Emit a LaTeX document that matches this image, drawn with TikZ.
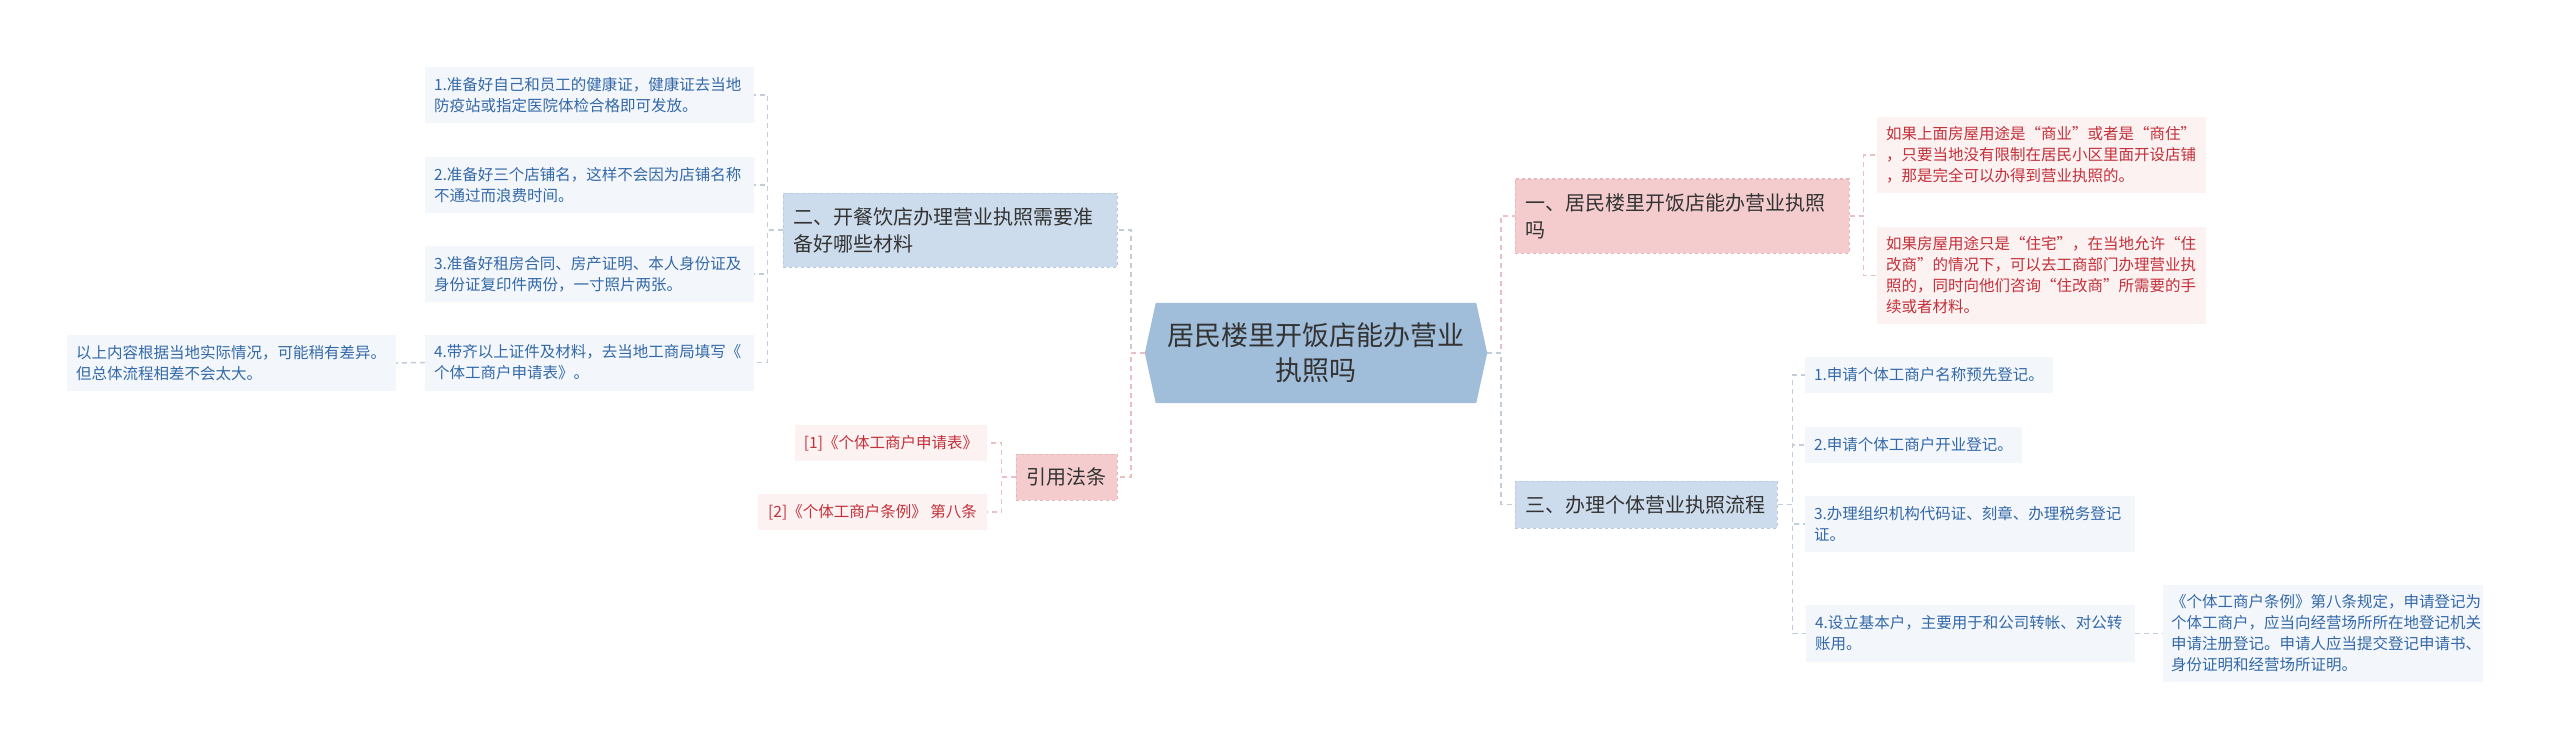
\documentclass[tikz,border=0pt]{standalone}
\usepackage{fontspec}
\newfontfamily\cjk{Noto Sans CJK SC}
\definecolor{hubfill}{HTML}{A0BDDA}
\definecolor{bluefill}{HTML}{CCDCEC}
\definecolor{blueedge}{HTML}{B6C9DD}
\definecolor{pinkfill}{HTML}{F4CCCD}
\definecolor{pinkedge}{HTML}{E8B6B8}
\definecolor{bleaffill}{HTML}{F3F7FB}
\definecolor{pleaffill}{HTML}{FCF2F2}
\definecolor{btext}{HTML}{3468A8}
\definecolor{ptext}{HTML}{C4303A}
\definecolor{blinecol}{HTML}{C3CDD8}
\definecolor{plinecol}{HTML}{E9C0C3}
\definecolor{darktext}{HTML}{333333}
\usetikzlibrary{backgrounds}

\begin{document}
\begin{tikzpicture}[
  x=1pt, y=-1pt,
  hub/.style ={inner sep=0pt, minimum width=342pt, minimum height=100pt, align=center,
               text=darktext, font=\cjk\fontsize{27}{35}\selectfont},
  bbranch/.style={draw=blueedge, dashed, line width=1pt, fill=bluefill, text=darktext,
               font=\cjk\fontsize{20}{27}\selectfont, align=left, inner xsep=10pt,
               inner ysep=0pt, text width=314pt, minimum height=74pt},
  pbranch/.style={bbranch, draw=pinkedge, fill=pinkfill},
  leafbase/.style={font=\cjk\fontsize{15.5}{21}\selectfont, inner xsep=9pt,
               inner ysep=0pt, minimum height=56pt},
  bleaf/.style={leafbase, fill=bleaffill, text=btext, align=left, text width=311pt},
  pleaf/.style={leafbase, fill=pleaffill, text=ptext, align=left, text width=311pt},
  reftag/.style={leafbase, fill=pleaffill, text=ptext, align=center, minimum height=36pt},
  blink/.style={draw=blinecol, line width=1.5pt, dash pattern=on 5pt off 4pt},
  plink/.style={draw=plinecol, line width=1.5pt, dash pattern=on 5pt off 4pt},
]
  \useasboundingbox (0,0) rectangle (2560,749);

  % ---- 中心主题 ----
  \node[hub] (hub) at (1316,353) {居民楼里开饭店能办营业\\执照吗};

  % ---- 左侧：二、引用法条 ----
  \node[bbranch] (mat) at (950,230) {二、开餐饮店办理营业执照需要准\\备好哪些材料};
  \node[bleaf] (mat1) at (589.5,95)  {1.准备好自己和员工的健康证，健康证去当地\\防疫站或指定医院体检合格即可发放。};
  \node[bleaf] (mat2) at (589.5,185) {2.准备好三个店铺名，这样不会因为店铺名称\\不通过而浪费时间。};
  \node[bleaf] (mat3) at (589.5,274) {3.准备好租房合同、房产证明、本人身份证及\\身份证复印件两份，一寸照片两张。};
  \node[bleaf] (mat4) at (589.5,362.5) {4.带齐以上证件及材料，去当地工商局填写《\\个体工商户申请表》。};
  \node[bleaf] (tip)  at (231.5,363) {以上内容根据当地实际情况，可能稍有差异。\\但总体流程相差不会太大。};

  \node[pbranch, text width=80pt, align=center, minimum height=46pt, inner xsep=10.5pt]
       (law) at (1066.5,477) {引用法条};
  \node[reftag, minimum width=192pt] (law1) at (891,443) {[1]《个体工商户申请表》};
  \node[reftag, minimum width=229pt] (law2) at (872.5,512) {[2]《个体工商户条例》 第八条};

  % ---- 右侧：一、三 ----
  \node[pbranch] (can) at (1682,216) {一、居民楼里开饭店能办营业执照\\吗};
  \node[pleaf, minimum height=76pt] (can1) at (2041.5,155)
       {如果上面房屋用途是“商业”或者是“商住”\\，只要当地没有限制在居民小区里面开设店铺\\，那是完全可以办得到营业执照的。};
  \node[pleaf, minimum height=97pt] (can2) at (2041.5,275.5)
       {如果房屋用途只是“住宅”，在当地允许“住\\改商”的情况下，可以去工商部门办理营业执\\照的，同时向他们咨询“住改商”所需要的手\\续或者材料。};

  \node[bbranch, text width=242pt, minimum height=47pt] (proc) at (1646,504.5) {三、办理个体营业执照流程};
  \node[bleaf, text width=230pt, minimum height=36pt] (proc1) at (1929,375) {1.申请个体工商户名称预先登记。};
  \node[bleaf, text width=199pt, minimum height=36pt] (proc2) at (1913.5,445) {2.申请个体工商户开业登记。};
  \node[bleaf, text width=312pt] (proc3) at (1970,524) {3.办理组织机构代码证、刻章、办理税务登记\\证。};
  \node[bleaf, minimum height=57pt] (proc4) at (1970.5,633.5) {4.设立基本户，主要用于和公司转帐、对公转\\账用。};
  \node[bleaf, text width=304pt, inner xsep=8pt, minimum height=97pt] (rule) at (2323,633.5)
       {《个体工商户条例》第八条规定，申请登记为\\个体工商户，应当向经营场所所在地登记机关\\申请注册登记。申请人应当提交登记申请书、\\身份证明和经营场所证明。};

  % ---- 背景与中心六边形 ----
  \begin{scope}[on background layer]
    \fill[white] (0,0) rectangle (2560,749);
    \fill[hubfill] (hub.west) -- ([xshift=11pt]hub.north west) -- ([xshift=-11pt]hub.north east)
      -- (hub.east) -- ([xshift=-11pt]hub.south east) -- ([xshift=11pt]hub.south west) -- cycle;
  \end{scope}

  % ---- 连线 ----
  \draw[blink] (hub.west) -- ++(-14,0) |- (mat.east);
  \draw[plink] (hub.west) -- ++(-14,0) |- (law.east);
  \draw[plink] (hub.east) -- ++(14,0) |- (can.west);
  \draw[blink] (hub.east) -- ++(14,0) |- (proc.west);

  \foreach \n in {mat1,mat2,mat3,mat4}
    \draw[blink] (mat.west) -- ++(-15,0) |- (\n.east);
  \draw[blink] (mat4.west) -- (tip.east);

  \foreach \n in {law1,law2}
    \draw[plink] (law.west) -- ++(-14,0) |- (\n.east);

  \foreach \n in {can1,can2}
    \draw[plink] (can.east) -- ++(14,0) |- (\n.west);

  \foreach \n in {proc1,proc2,proc3,proc4}
    \draw[blink] (proc.east) -- ++(15,0) |- (\n.west);
  \draw[blink] (proc4.east) -- (rule.west);
\end{tikzpicture}
\end{document}
